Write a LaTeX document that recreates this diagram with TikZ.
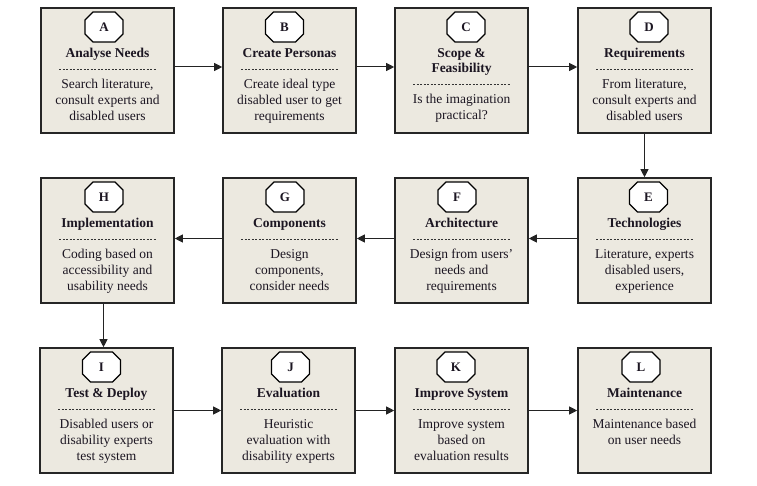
\documentclass[tikz,border=0pt]{standalone}
\usepackage{fontspec}
\setmainfont{Liberation Serif}
\usetikzlibrary{arrows.meta}
\definecolor{boxfill}{RGB}{236,233,224}
\definecolor{boxline}{RGB}{38,38,38}
\definecolor{txt}{RGB}{28,22,34}
\definecolor{conn}{RGB}{35,35,35}
\newcommand\stagebox[8]{%
  \node[box] (#1) at (#2+66.5,#3+62.5) {};
  \begin{scope}[shift={(#2+66.5+#5,#3+19)}]
    \draw[octo] (-11,-15) -- (11,-15) -- (19,-7) -- (19,7) -- (11,15) -- (-11,15) -- (-19,7) -- (-19,-7) -- cycle;
    \node[letter] (#1l) at (0,0) {#4};
  \end{scope}
  \node[ttl] (#1t) at (#2+66.5,#3+37) {\rule{0pt}{12pt}#6};
  \draw[dsh] (#2+66.5-48.5,#3+61+#8) -- (#2+66.5+48.5,#3+61+#8);
  \node[bdy] (#1b) at (#2+66.5,#3+68+#8) {\rule{0pt}{12pt}#7};
}
\begin{document}
\begin{tikzpicture}[x=1pt,y=-1pt,
  box/.style={draw=boxline,line width=1.6pt,fill=boxfill,minimum width=133pt,minimum height=125pt,inner sep=0pt},
  octo/.style={draw=black,line width=1.1pt,fill=white,line join=miter},
  letter/.style={inner sep=0pt,font=\bfseries\fontsize{13}{15}\selectfont,text=txt},
  ttl/.style={anchor=north,inner sep=0pt,align=center,font=\bfseries\fontsize{13.5}{15}\selectfont,text=txt},
  bdy/.style={anchor=north,inner sep=0pt,align=center,font=\fontsize{13.5}{16}\selectfont,text=txt},
  dsh/.style={draw=black!80,line width=0.8pt,dash pattern=on 2.2pt off 1.3pt},
  arr/.style={draw=conn,line width=1pt,-{Triangle[length=8pt,width=8pt]}}]
\useasboundingbox (0,0) rectangle (757,486);
\stagebox{A}{41}{8}{A}{-3.5}{Analyse Needs}{Search literature,\\consult experts and\\disabled users}{0}
\stagebox{B}{223}{8}{B}{-5}{Create Personas}{Create ideal type\\disabled user to get\\requirements}{0}
\stagebox{C}{395}{8}{C}{4.5}{Scope \&\\Feasibility}{Is the imagination\\practical?}{15}
\stagebox{D}{578}{8}{D}{4.5}{Requirements}{From literature,\\consult experts and\\disabled users}{0}
\stagebox{H}{41}{178}{H}{-3.5}{Implementation}{Coding based on\\accessibility and\\usability needs}{0}
\stagebox{G}{223}{178}{G}{-4.5}{Components}{Design\\components,\\consider needs}{0}
\stagebox{F}{395}{178}{F}{-4.5}{Architecture}{Design from users'\\needs and\\requirements}{0}
\stagebox{E}{578}{178}{E}{4}{Technologies}{Literature, experts\\disabled users,\\experience}{0}
\stagebox{I}{40}{348}{I}{-5}{Test \& Deploy}{Disabled users or\\disability experts\\test system}{0}
\stagebox{J}{222}{348}{J}{2}{Evaluation}{Heuristic\\evaluation with\\disability experts}{0}
\stagebox{K}{395}{348}{K}{-5.5}{Improve System}{Improve system\\based on\\evaluation results}{0}
\stagebox{L}{578}{348}{L}{-3.5}{Maintenance}{Maintenance based\\on user needs}{0}
\draw[arr] ([yshift=3.5pt]A.east) -- ([yshift=3.5pt]B.west);
\draw[arr] ([yshift=3.5pt]B.east) -- ([yshift=3.5pt]C.west);
\draw[arr] ([yshift=3.5pt]C.east) -- ([yshift=3.5pt]D.west);
\draw[arr] (D.south) -- (E.north);
\draw[arr] ([yshift=2pt]E.west) -- ([yshift=2pt]F.east);
\draw[arr] ([yshift=2pt]F.west) -- ([yshift=2pt]G.east);
\draw[arr] ([yshift=2pt]G.west) -- ([yshift=2pt]H.east);
\draw[arr] ([xshift=-4pt]H.south) -- ([xshift=-4pt]H.south |- I.north);
\draw[arr] (I.east) -- (J.west);
\draw[arr] (J.east) -- (K.west);
\draw[arr] (K.east) -- (L.west);
\end{tikzpicture}
\end{document}
